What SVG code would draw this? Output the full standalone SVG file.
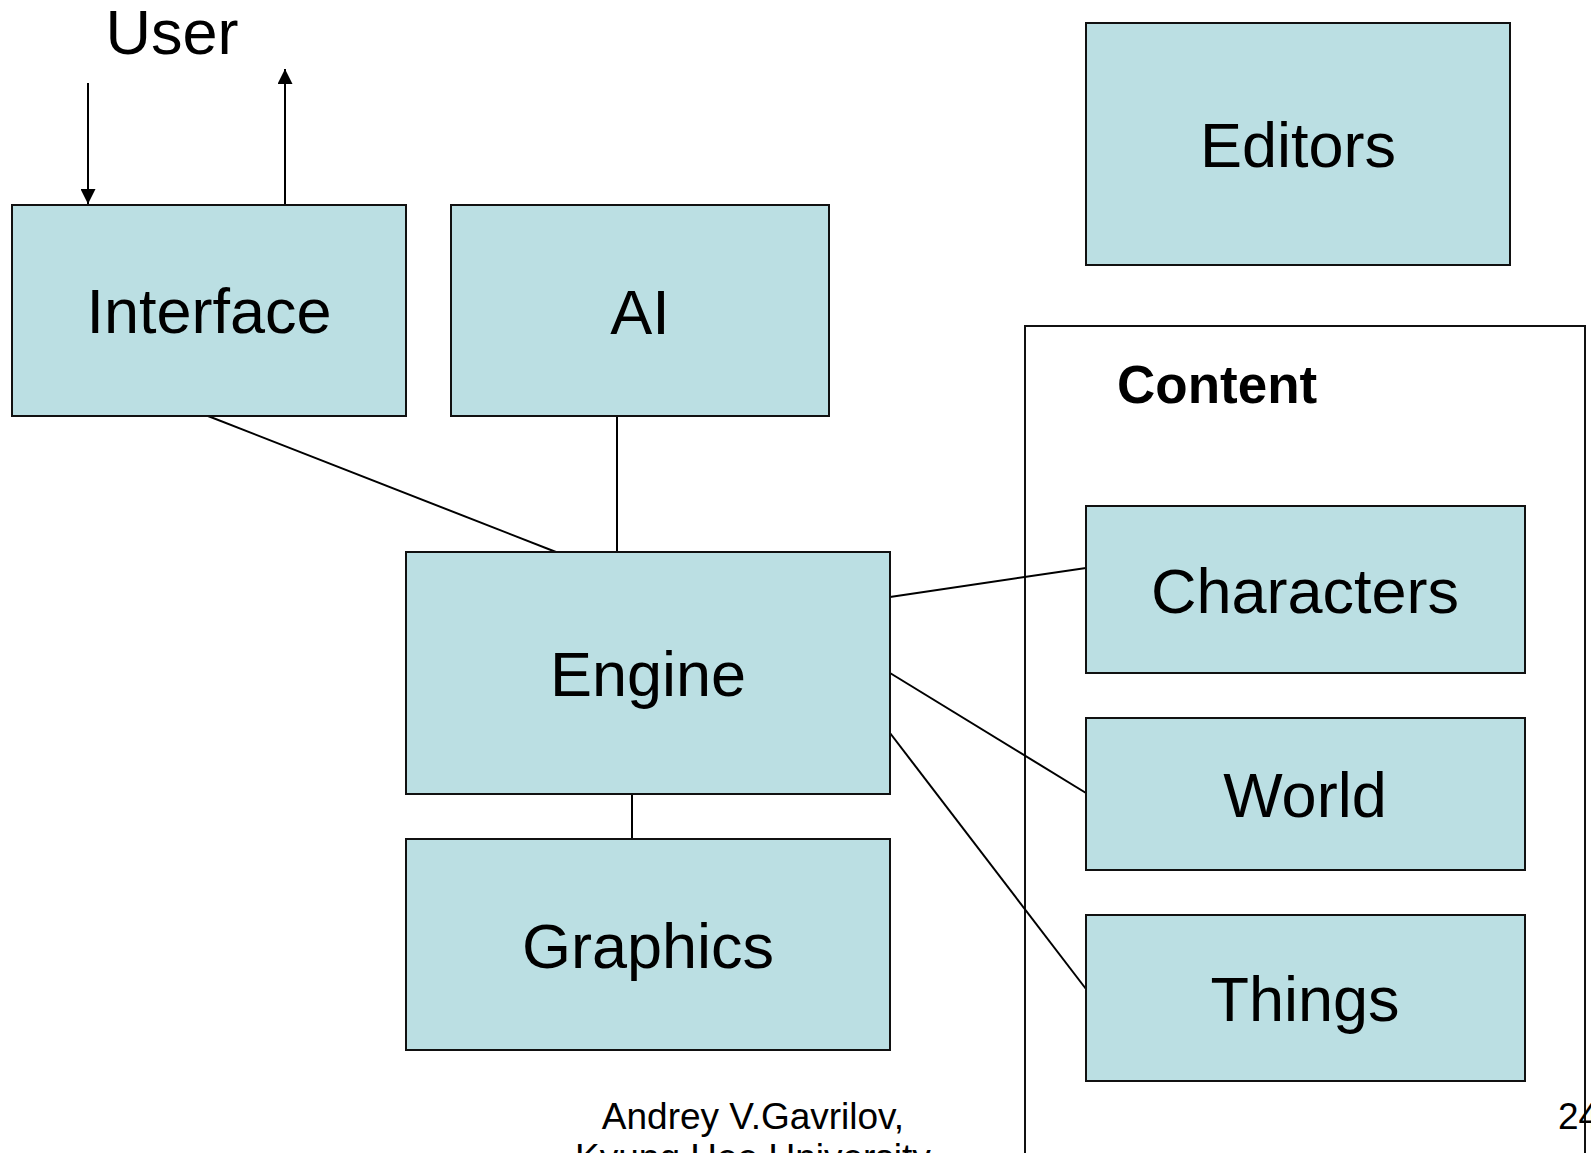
<svg xmlns="http://www.w3.org/2000/svg" width="1591" height="1153" viewBox="0 0 1591 1153">
<style>
.box{fill:#BBDFE3;stroke:#111;stroke-width:2}
.lbl{font-family:"Liberation Sans",Arial,sans-serif;font-size:63px;fill:#000;text-anchor:middle}
.ln{stroke:#000;stroke-width:2;fill:none}
.small{font-family:"Liberation Sans",Arial,sans-serif;font-size:37px;fill:#000}
</style>
<defs>
<marker id="ah" viewBox="0 0 10 10" refX="10" refY="5" markerWidth="15" markerHeight="15" markerUnits="userSpaceOnUse" orient="auto">
<path d="M0,0 L10,5 L0,10 Z" fill="#000"/>
</marker>
</defs>
<rect width="1591" height="1153" fill="#fff"/>
<g id="content-frame">
<rect x="1025" y="326" width="560" height="900" fill="none" stroke="#111" stroke-width="2"/>
<text x="1117" y="403" font-family="Liberation Sans,Arial,sans-serif" font-size="53" font-weight="bold">Content</text>
</g>
<g id="connectors">
<line class="ln" x1="88" y1="83" x2="88" y2="204" marker-end="url(#ah)"/>
<line class="ln" x1="285" y1="205" x2="285" y2="69" marker-end="url(#ah)"/>
<line class="ln" x1="208" y1="416" x2="556" y2="552"/>
<line class="ln" x1="617" y1="416" x2="617" y2="552"/>
<line class="ln" x1="890" y1="597" x2="1086" y2="568"/>
<line class="ln" x1="890" y1="673" x2="1086" y2="793"/>
<line class="ln" x1="890" y1="733" x2="1086" y2="989"/>
<line class="ln" x1="632" y1="794" x2="632" y2="839"/>
</g>
<g id="user"><text x="172" y="54" class="lbl" font-size="62">User</text></g>
<g id="interface"><rect class="box" x="12" y="205" width="394" height="211"/><text class="lbl" x="209" y="333">Interface</text></g>
<g id="ai"><rect class="box" x="451" y="205" width="378" height="211"/><text class="lbl" x="640" y="334">AI</text></g>
<g id="editors"><rect class="box" x="1086" y="23" width="424" height="242"/><text class="lbl" x="1298" y="167">Editors</text></g>
<g id="engine"><rect class="box" x="406" y="552" width="484" height="242"/><text class="lbl" x="648" y="696">Engine</text></g>
<g id="graphics"><rect class="box" x="406" y="839" width="484" height="211"/><text class="lbl" x="648" y="968">Graphics</text></g>
<g id="characters"><rect class="box" x="1086" y="506" width="439" height="167"/><text class="lbl" x="1305" y="613">Characters</text></g>
<g id="world"><rect class="box" x="1086" y="718" width="439" height="152"/><text class="lbl" x="1305" y="817">World</text></g>
<g id="things"><rect class="box" x="1086" y="915" width="439" height="166"/><text class="lbl" x="1305" y="1021">Things</text></g>
<g id="footer">
<text class="small" x="753" y="1129" text-anchor="middle">Andrey V.Gavrilov,</text>
<text class="small" x="753" y="1170" text-anchor="middle">Kyung Hee University</text>
<text class="small" x="1558" y="1129">24</text>
</g>
</svg>
